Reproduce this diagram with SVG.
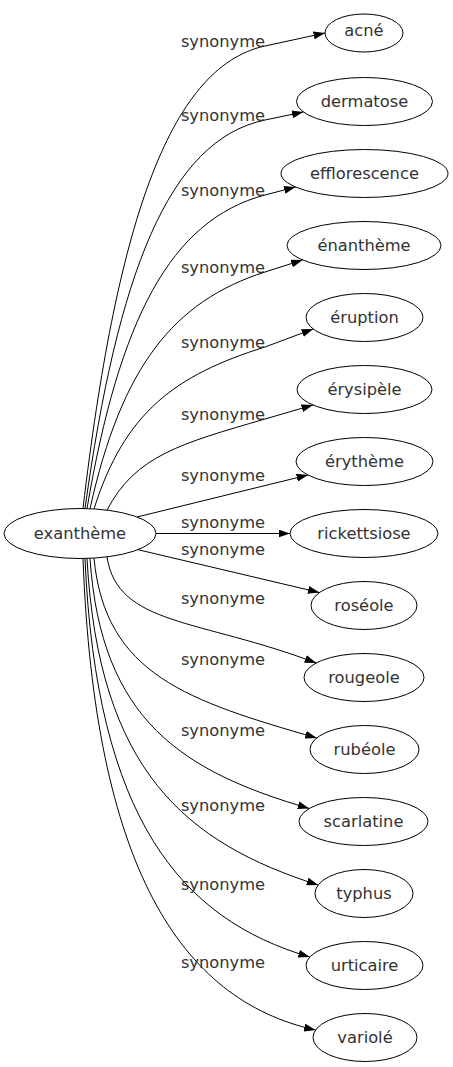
<svg xmlns="http://www.w3.org/2000/svg" width="453" height="1067" viewBox="0 0 453 1067">
<style>
.n ellipse{fill:none;stroke:#000;stroke-width:1}
text{font-family:"DejaVu Sans",sans-serif;font-size:16.3px;fill:#333;text-anchor:middle}
.e path{fill:none;stroke:#000;stroke-width:1;marker-end:url(#a)}
</style>
<defs><marker id="a" markerWidth="11.5" markerHeight="8" refX="11.5" refY="4" orient="auto" markerUnits="userSpaceOnUse"><path d="M0,0 L11.5,4 L0,8 z" fill="#000"/></marker></defs>
<g id="edges" class="e">
<path d="M83,508.5 C115.8,231 167.3,67.2 265,46 L325,33"/>
<path d="M85,508.6 C117.4,275.4 168.1,140.2 265,120 L303.4,112"/>
<path d="M87,508.6 C119,320.4 170.2,219.9 265,195 L295.5,187"/>
<path d="M90,508.7 C121.5,366.7 173.6,301.2 265,272 L302.6,260"/>
<path d="M94,508.9 C124.8,411.8 175.4,375.1 265,347 L313.2,329"/>
<path d="M107,510.1 C135.4,455.4 181.5,443.4 265,419 L313,405"/>
<path d="M137,517 L308,475"/>
<path d="M156,533.5 L290,533.5"/>
<path d="M138,549.7 L319.4,592.5"/>
<path d="M107,556.9 C117.5,625.9 198.9,618.4 316.2,663"/>
<path d="M94,558.1 C105.1,675 188.4,700.9 316.7,738"/>
<path d="M90,558.3 C101,720.9 183,771.7 309.3,808.5"/>
<path d="M87,558.4 C98.6,770.7 186,843 318.2,885"/>
<path d="M85,558.45 C96.2,817.5 180.3,919.2 309.8,957"/>
<path d="M83,558.5 C94.6,865 179.3,1000 315.6,1030"/>
<text x="223" y="46.5">synonyme</text>
<text x="223" y="120.5">synonyme</text>
<text x="223" y="195.5">synonyme</text>
<text x="223" y="272.5">synonyme</text>
<text x="223" y="347.5">synonyme</text>
<text x="223" y="419.5">synonyme</text>
<text x="223" y="480.5">synonyme</text>
<text x="223" y="527.5">synonyme</text>
<text x="223" y="554.5">synonyme</text>
<text x="223" y="603.5">synonyme</text>
<text x="223" y="664.5">synonyme</text>
<text x="223" y="735.5">synonyme</text>
<text x="223" y="810.5">synonyme</text>
<text x="223" y="889.5">synonyme</text>
<text x="223" y="967.5">synonyme</text>
</g>
<g id="exantheme" class="n"><ellipse cx="80" cy="533.5" rx="76" ry="25"/><text x="80" y="539">exanthème</text></g>
<g id="acne" class="n"><ellipse cx="364" cy="33" rx="39" ry="19"/><text x="364" y="36">acné</text></g>
<g id="dermatose" class="n"><ellipse cx="364.5" cy="101.5" rx="68" ry="24"/><text x="364.5" y="107">dermatose</text></g>
<g id="efflorescence" class="n"><ellipse cx="364.5" cy="173.5" rx="83.5" ry="24"/><text x="364.5" y="179">efflorescence</text></g>
<g id="enantheme" class="n"><ellipse cx="364" cy="245.5" rx="77" ry="24"/><text x="364" y="251">énanthème</text></g>
<g id="eruption" class="n"><ellipse cx="364.5" cy="317.5" rx="58.5" ry="24"/><text x="364.5" y="323">éruption</text></g>
<g id="erysipele" class="n"><ellipse cx="364.5" cy="389.5" rx="67.5" ry="24"/><text x="364.5" y="395">érysipèle</text></g>
<g id="erytheme" class="n"><ellipse cx="364.5" cy="461.5" rx="68.5" ry="24"/><text x="364.5" y="467">érythème</text></g>
<g id="rickettsiose" class="n"><ellipse cx="364" cy="533.5" rx="74" ry="24"/><text x="364" y="539">rickettsiose</text></g>
<g id="roseole" class="n"><ellipse cx="364" cy="605.5" rx="53" ry="24"/><text x="364" y="611">roséole</text></g>
<g id="rougeole" class="n"><ellipse cx="364" cy="677.5" rx="60" ry="24"/><text x="364" y="683">rougeole</text></g>
<g id="rubeole" class="n"><ellipse cx="364.5" cy="749.5" rx="54.5" ry="24"/><text x="364.5" y="755">rubéole</text></g>
<g id="scarlatine" class="n"><ellipse cx="363.5" cy="821.5" rx="64.5" ry="24"/><text x="363.5" y="827">scarlatine</text></g>
<g id="typhus" class="n"><ellipse cx="364" cy="893.5" rx="49" ry="24"/><text x="364" y="899">typhus</text></g>
<g id="urticaire" class="n"><ellipse cx="364.5" cy="965.5" rx="58.5" ry="24"/><text x="364.5" y="971">urticaire</text></g>
<g id="variole" class="n"><ellipse cx="365" cy="1037.5" rx="52" ry="24"/><text x="365" y="1043">variolé</text></g>
</svg>
